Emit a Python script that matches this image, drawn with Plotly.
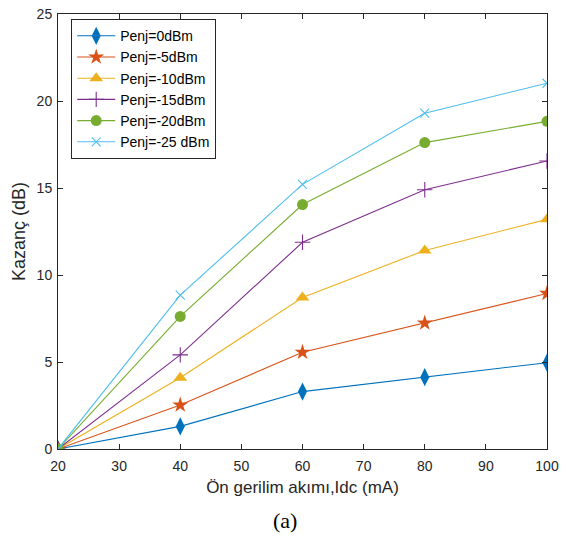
import plotly.graph_objects as go

x_ma = [20, 40, 60, 80, 100]
names = ["Penj=0dBm", "Penj=-5dBm", "Penj=-10dBm", "Penj=-15dBm", "Penj=-20dBm", "Penj=-25 dBm"]
g0 = [0, 1.3, 3.3, 4.13, 4.96]
g5 = [0, 2.53, 5.56, 7.24, 8.94]
g10 = [0, 4.09, 8.71, 11.41, 13.2]
g15 = [0, 5.41, 11.88, 14.9, 16.55]
g20 = [0, 7.62, 14.05, 17.61, 18.83]
g25 = [0, 8.84, 15.21, 19.3, 21.02]
series = [g0, g5, g10, g15, g20, g25]
colors = ["#0072BD", "#D95319", "#EDB120", "#7E2F8E", "#77AC30", "#4DBEEE"]
symbols = ["diamond-tall", "star", "triangle-up", "cross-thin", "circle", "x-thin"]
sizes = [13, 12, 12, 11, 11, 9]

FONT = "Liberation Sans, Arial, sans-serif"

fig = go.Figure()
for n, y, c, s, sz in zip(names, series, colors, symbols, sizes):
    thin = s.endswith("thin")
    fig.add_trace(go.Scatter(
        x=x_ma, y=y, name=n, mode="lines+markers",
        line=dict(color=c, width=1.1),
        marker=dict(symbol=s, size=sz, color=c,
                    line=dict(color=c, width=1.1 if thin else 0)),
    ))

axis_common = dict(
    showline=True, linecolor="#262626", linewidth=1, mirror="ticks",
    ticks="inside", ticklen=5, tickcolor="#262626",
    showgrid=False, zeroline=False, ticklabeloverflow="allow",
    tickfont=dict(family=FONT, size=14, color="#262626"),
)
fig.update_xaxes(range=[20, 100], tick0=20, dtick=10, ticklabelstandoff=4,
                 title=dict(text="Ön gerilim akımı,Idc (mA)", standoff=8,
                            font=dict(family=FONT, size=17, color="#262626")),
                 **axis_common)
fig.update_yaxes(range=[0, 25], tick0=0, dtick=5, ticklabelstandoff=2,
                 title=dict(text="Kazanç (dB)", standoff=6,
                            font=dict(family=FONT, size=18, color="#262626")),
                 **axis_common)

fig.add_annotation(text="(a)", xref="paper", yref="paper", x=0.464, y=-0.165,
                   showarrow=False, yanchor="middle",
                   font=dict(family="Liberation Serif, Times New Roman, serif", size=22, color="black"))

fig.update_layout(
    width=566, height=544,
    margin=dict(l=58, r=19, t=6, b=95),
    plot_bgcolor="white", paper_bgcolor="white",
    legend=dict(x=0.027, y=0.988, xanchor="left", yanchor="top",
                bordercolor="#262626", borderwidth=1, bgcolor="white",
                font=dict(family=FONT, size=14, color="black"),
                tracegroupgap=0, itemwidth=38),
    showlegend=True,
)
fig.write_html("out.html", config={"displayModeBar": False},
               post_script="document.body.style.margin='0';document.body.style.padding='0';")
